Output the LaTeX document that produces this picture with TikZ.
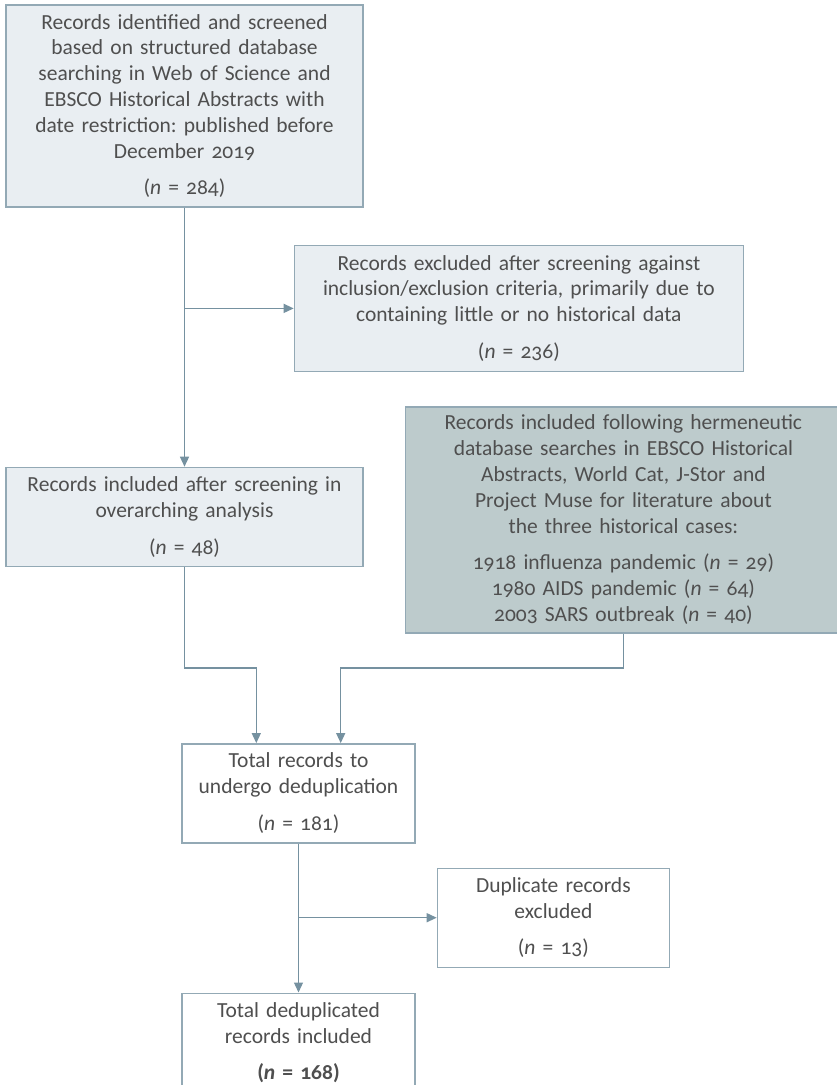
\documentclass[tikz,border=0pt]{standalone}
\usepackage{fontspec}
\setmainfont{Carlito}[Numbers=OldStyle]
\usepackage{tikz}
\usetikzlibrary{positioning, arrows.meta}
\frenchspacing

\definecolor{boxline}{HTML}{93A9B5}
\definecolor{conncol}{HTML}{7591A0}
\definecolor{lightfill}{HTML}{E9EEF2}
\definecolor{darkfill}{HTML}{BDCBCC}
\definecolor{textgrey}{HTML}{4F4F4F}

\begin{document}
\begin{tikzpicture}[node distance=30pt,
        every node/.style={draw=boxline, line width=1.4pt, align=center, inner xsep=0pt, inner ysep=4pt,
                text=textgrey, font=\fontsize{21.5}{25.8}\selectfont},
        lightbox/.style={fill=lightfill},
        darkbox/.style={fill=darkfill},
        plainbox/.style={fill=white},
        conn/.style={draw=conncol, line width=1.3pt, -{Triangle[length=10pt, width=9pt]}}]
                \useasboundingbox (0pt,0pt) rectangle (837pt,-1085pt);

                \node[lightbox, text width=357pt, minimum height=202pt] (ident) at (184.5pt,-106pt)
                        {Records identified and screened\\ based on structured database\\ searching in Web of Science and\\
                         EBSCO Historical Abstracts with\\ date restriction: published before\\ December 2019\\[11pt] (\textit{n} = 284)};
                \node[lightbox, text width=449pt, minimum height=126pt] (excl) [below right=37pt and -70pt of ident.south east]
                        {Records excluded after screening against\\ inclusion/exclusion criteria, primarily due to\\
                         containing little or no historical data\\[11pt] (\textit{n} = 236)};
                \node[lightbox, text width=357pt, minimum height=99pt] (incl) [below=259pt of ident]
                        {Records included after screening in\\ overarching analysis\\[11pt] (\textit{n} = 48)};
                \node[darkbox, text width=436pt, minimum height=226pt] (herm) [below right=34pt and 111pt of excl.south west]
                        {Records included following hermeneutic\\ database searches in EBSCO Historical\\ Abstracts, World Cat, J-Stor and\\
                         Project Muse for literature about\\ the three historical cases:\\[11pt]
                         1918 influenza pandemic (\textit{n} = 29)\\ 1980 AIDS pandemic (\textit{n} = 64)\\ 2003 SARS outbreak (\textit{n} = 40)};
                \node[plainbox, text width=233pt, minimum height=99pt] (total) [below right=176pt and 176pt of incl.south west]
                        {Total records to\\ undergo deduplication\\[11pt] (\textit{n} = 181)};
                \node[plainbox, text width=232pt, minimum height=99pt] (dup) [below right=24pt and 21pt of total.south east]
                        {Duplicate records\\ excluded\\[11pt] (\textit{n} = 13)};
                \node[plainbox, text width=233pt, minimum height=99pt] (final) [below=149pt of total]
                        {Total deduplicated\\ records included\\[11pt] \textbf{(\textit{n} = 168)}};

                % Entry points on top of the deduplication box
                \coordinate (inA) at ([xshift=75pt]total.north west);
                \coordinate (inB) at ([xshift=-75pt]total.north east);

                \draw[conn] (ident) -- (incl);
                \draw[conn] (ident.south |- excl.west) -- (excl.west);
                \draw[conn] (incl.south) |- ([yshift=75pt]inA) -- (inA);
                \draw[conn] (herm.south) |- ([yshift=75pt]inB) -- (inB);
                \draw[conn] (total) -- (final);
                \draw[conn] (total.south |- dup.west) -- (dup.west);
        \end{tikzpicture}
\end{document}
